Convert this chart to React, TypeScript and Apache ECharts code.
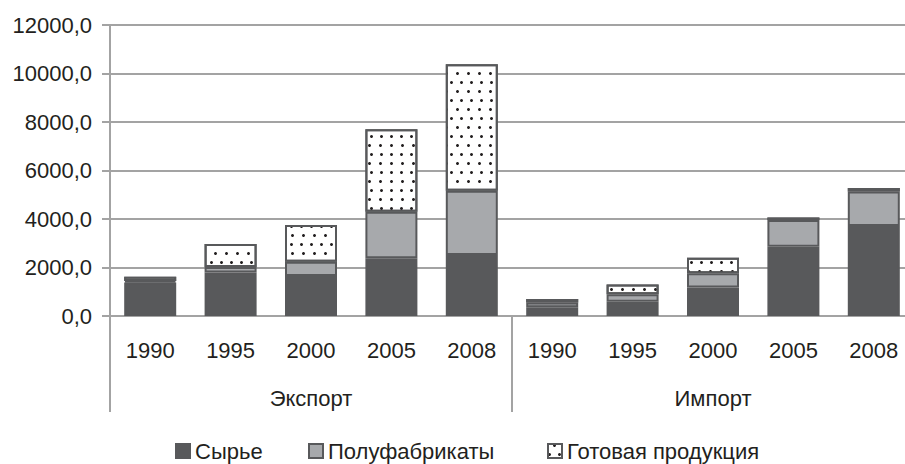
import React, { useEffect, useRef } from "react";
import * as echarts from "echarts";

const years = ["1990", "1995", "2000", "2005", "2008"];
const groups = ["Экспорт", "Импорт"];
const categories = [...years, ...years];

const seriesNames = ["Сырье", "Полуфабрикаты", "Готовая продукция"];
// Export 1990..2008, then Import 1990..2008
const raw = [1380, 1790, 1650, 2380, 2520, 360, 590, 1180, 2860, 3710];
const semi = [60, 230, 590, 1920, 2650, 200, 310, 580, 1100, 1420];
const finished = [180, 950, 1510, 3400, 5210, 140, 400, 640, 100, 150];

const yTicks = { min: 0, max: 12000, interval: 2000 };

const FONT = "'Liberation Sans', Arial, sans-serif";
const TEXT = "#231f20";
const GRID = "#a3a3a3";
const DARK = "#58595b";
const MID = "#a7a9ac";

const GRID_LEFT = 110;
const GRID_TOP = 25;
const GRID_W = 804;
const GRID_H = 291;
const SEP_LEN = 96;

export default function App() {
  const ref = useRef<HTMLDivElement>(null);
  useEffect(() => {
    if (!ref.current) return;
    const chart = echarts.init(ref.current, undefined, { renderer: "svg" });
    const border = { borderColor: DARK, borderWidth: 2 };
    const legendBase = {
      top: 435,
      itemWidth: 14,
      itemHeight: 14,
      icon: "rect",
      textStyle: { fontSize: 22, color: TEXT, fontFamily: FONT },
    };
    const bottom = GRID_TOP + GRID_H;
    const groupW = GRID_W / groups.length;
    const separators = [0, 1, 2].map((i) => {
      const x = GRID_LEFT + i * groupW;
      return {
        type: "rect",
        silent: true,
        shape: { x: x - 1, y: bottom, width: 2, height: SEP_LEN },
        style: { fill: GRID, lineWidth: 0 },
      };
    });
    const groupLabels = groups.map((g, i) => ({
      type: "text",
      silent: true,
      x: GRID_LEFT + (i + 0.5) * groupW,
      y: 398,
      style: {
        text: g,
        fill: TEXT,
        font: `22px ${FONT}`,
        align: "center",
        verticalAlign: "middle",
      },
    }));
    chart.setOption({
      animation: false,
      textStyle: { fontFamily: FONT },
      grid: {
        left: GRID_LEFT,
        top: GRID_TOP,
        width: GRID_W,
        height: GRID_H,
        containLabel: false,
        outerBoundsMode: "none",
        show: false,
      },
      legend: [
        { ...legendBase, left: 170, data: [seriesNames[0]] },
        { ...legendBase, left: 303, data: [seriesNames[1]] },
        { ...legendBase, left: 542, data: [seriesNames[2]] },
      ],
      graphic: [...separators, ...groupLabels],
      xAxis: {
        type: "category",
        data: categories,
        axisLine: { show: true, onZero: false, lineStyle: { color: GRID, width: 2 } },
        axisTick: { show: false },
        splitLine: { show: false },
        axisLabel: { interval: 0, margin: 23, fontSize: 22, color: TEXT, fontFamily: FONT },
      },
      yAxis: {
        type: "value",
        min: yTicks.min,
        max: yTicks.max,
        interval: yTicks.interval,
        axisLine: { show: true, lineStyle: { color: GRID, width: 2 } },
        axisTick: { show: true, length: 8, lineStyle: { color: GRID, width: 2 } },
        splitLine: { show: true, lineStyle: { color: GRID, width: 2 } },
        axisLabel: {
          margin: 18,
          fontSize: 22,
          color: TEXT,
          fontFamily: FONT,
          formatter: (v: number) => v.toFixed(1).replace(".", ","),
        },
      },
      series: [
        {
          name: seriesNames[0],
          type: "bar",
          stack: "total",
          barWidth: 52,
          data: raw,
          itemStyle: { color: DARK, ...border },
        },
        {
          name: seriesNames[1],
          type: "bar",
          stack: "total",
          barWidth: 52,
          data: semi,
          itemStyle: { color: MID, ...border },
        },
        {
          name: seriesNames[2],
          type: "bar",
          stack: "total",
          barWidth: 52,
          data: finished,
          itemStyle: {
            color: "#ffffff",
            ...border,
            decal: {
              symbol: "circle",
              symbolSize: 1,
              color: "#231f20",
              dashArrayX: [
                [2.2, 6.3],
                [0, 4.25, 2.2, 2.05],
              ],
              dashArrayY: [2.2, 5.3],
              rotation: 0,
            },
          },
        },
      ],
    });
    return () => chart.dispose();
  }, []);
  return <div ref={ref} style={{ width: 905, height: 464, position: "absolute", left: 0, top: 0 }} />;
}
